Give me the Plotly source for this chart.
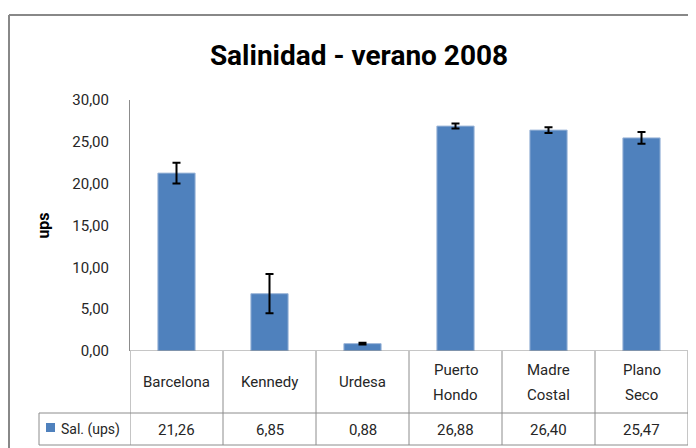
import plotly.graph_objects as go

sites = ["Barcelona", "Kennedy", "Urdesa", "Puerto<br>Hondo", "Madre<br>Costal", "Plano<br>Seco"]
salinity = [21.26, 6.85, 0.88, 26.88, 26.40, 25.47]
value_text = ["21,26", "6,85", "0,88", "26,88", "26,40", "25,47"]
err = [1.25, 2.35, 0.1, 0.3, 0.35, 0.7]
series_name = "Sal. (ups)"

FONT = "Roboto, Liberation Sans, sans-serif"
BLUE = "#4F81BD"
GRID = "#8c8c8c"
TXT = "#262626"
OFF = 8  # page body margin

x = list(range(len(sites)))

fig = go.Figure()
fig.add_trace(go.Bar(
    x=x, y=salinity, width=0.4,
    marker=dict(color=BLUE, line=dict(color="#9bb5d8", width=1)),
    error_y=dict(type="data", array=err, visible=True, color="black", thickness=2, width=4),
    showlegend=False,
))

# plot area (window px): 130..688 wide, 100..351 tall
R = 688
def py(p):
    return (351 - p) / 251

def px_(p):
    return (p - 130) / (R - 130)

shapes = []
line = dict(color=GRID, width=1)
shapes.append(dict(type="line", xref="paper", yref="paper", x0=px_(39), x1=1, y0=py(413), y1=py(413), line=line))
shapes.append(dict(type="line", xref="paper", yref="paper", x0=px_(39), x1=1, y0=py(445), y1=py(445), line=line))
for i in range(len(sites) + 1):
    shapes.append(dict(type="line", xref="x", yref="paper", x0=i - 0.5, x1=i - 0.5, y0=0, y1=py(445), line=line))
shapes.append(dict(type="line", xref="x", yref="y", x0=-0.5, x1=5.5, y0=0, y1=0, line=line))
shapes.append(dict(type="line", xref="paper", yref="paper", x0=px_(39), x1=px_(39), y0=py(413), y1=py(445), line=line))
# legend key square
shapes.append(dict(type="rect", xref="paper", yref="paper", x0=px_(46), x1=px_(55), y0=py(432), y1=py(423),
                   fillcolor=BLUE, line=dict(width=0)))
# outer chart border
shapes.append(dict(type="line", xref="paper", yref="paper", x0=px_(9), x1=px_(710), y0=py(15), y1=py(15), line=dict(color="#888888", width=2)))
shapes.append(dict(type="line", xref="paper", yref="paper", x0=px_(9), x1=px_(9), y0=py(15), y1=py(460), line=dict(color="#888888", width=2)))

annotations = []
for i, s in enumerate(sites):
    parts = s.split("<br>")
    if len(parts) == 1:
        rows = [(parts[0], 382)]
    else:
        rows = [(parts[0], 370), (parts[1], 395)]
    for t, yy in rows:
        annotations.append(dict(x=i, y=py(yy), xref="x", yref="paper", text=t, showarrow=False,
                                yanchor="middle", font=dict(family=FONT, size=15, color=TXT)))
    annotations.append(dict(x=i, y=py(430), xref="x", yref="paper", text=value_text[i], showarrow=False,
                            yanchor="middle", font=dict(family=FONT, size=15, color=TXT)))
annotations.append(dict(x=px_(59), y=py(429), xref="paper", yref="paper", xanchor="left", yanchor="middle",
                        text=series_name, showarrow=False,
                        font=dict(family=FONT, size=14, color=TXT)))

fig.update_layout(
    width=696, height=448,
    margin=dict(l=130 - OFF, r=696 - R + OFF, t=100 - OFF, b=448 - 351 + OFF),
    paper_bgcolor="white", plot_bgcolor="white",
    separators=",.",
    title=dict(text="<b>Salinidad - verano 2008</b>", x=(359 - OFF) / 696, xanchor="center",
               y=1 - (55 - OFF) / 448, yanchor="middle", yref="container",
               font=dict(family=FONT, size=28, color="black")),
    xaxis=dict(range=[-0.5, 5.5], showticklabels=False, showgrid=False, zeroline=False,
               showline=False, ticks="", automargin=False),
    yaxis=dict(range=[0, 30], dtick=5, tickformat=".2f", showgrid=False, zeroline=False,
               showline=True, linecolor=GRID, linewidth=1, ticks="outside", ticklen=17,
               tickcolor="rgba(0,0,0,0)", automargin=False,
               tickfont=dict(family=FONT, size=15, color=TXT),
               title=dict(text="<b>ups</b>", standoff=18, font=dict(family=FONT, size=16, color="black"))),
    shapes=shapes, annotations=annotations,
)

fig.write_html("out.html")
